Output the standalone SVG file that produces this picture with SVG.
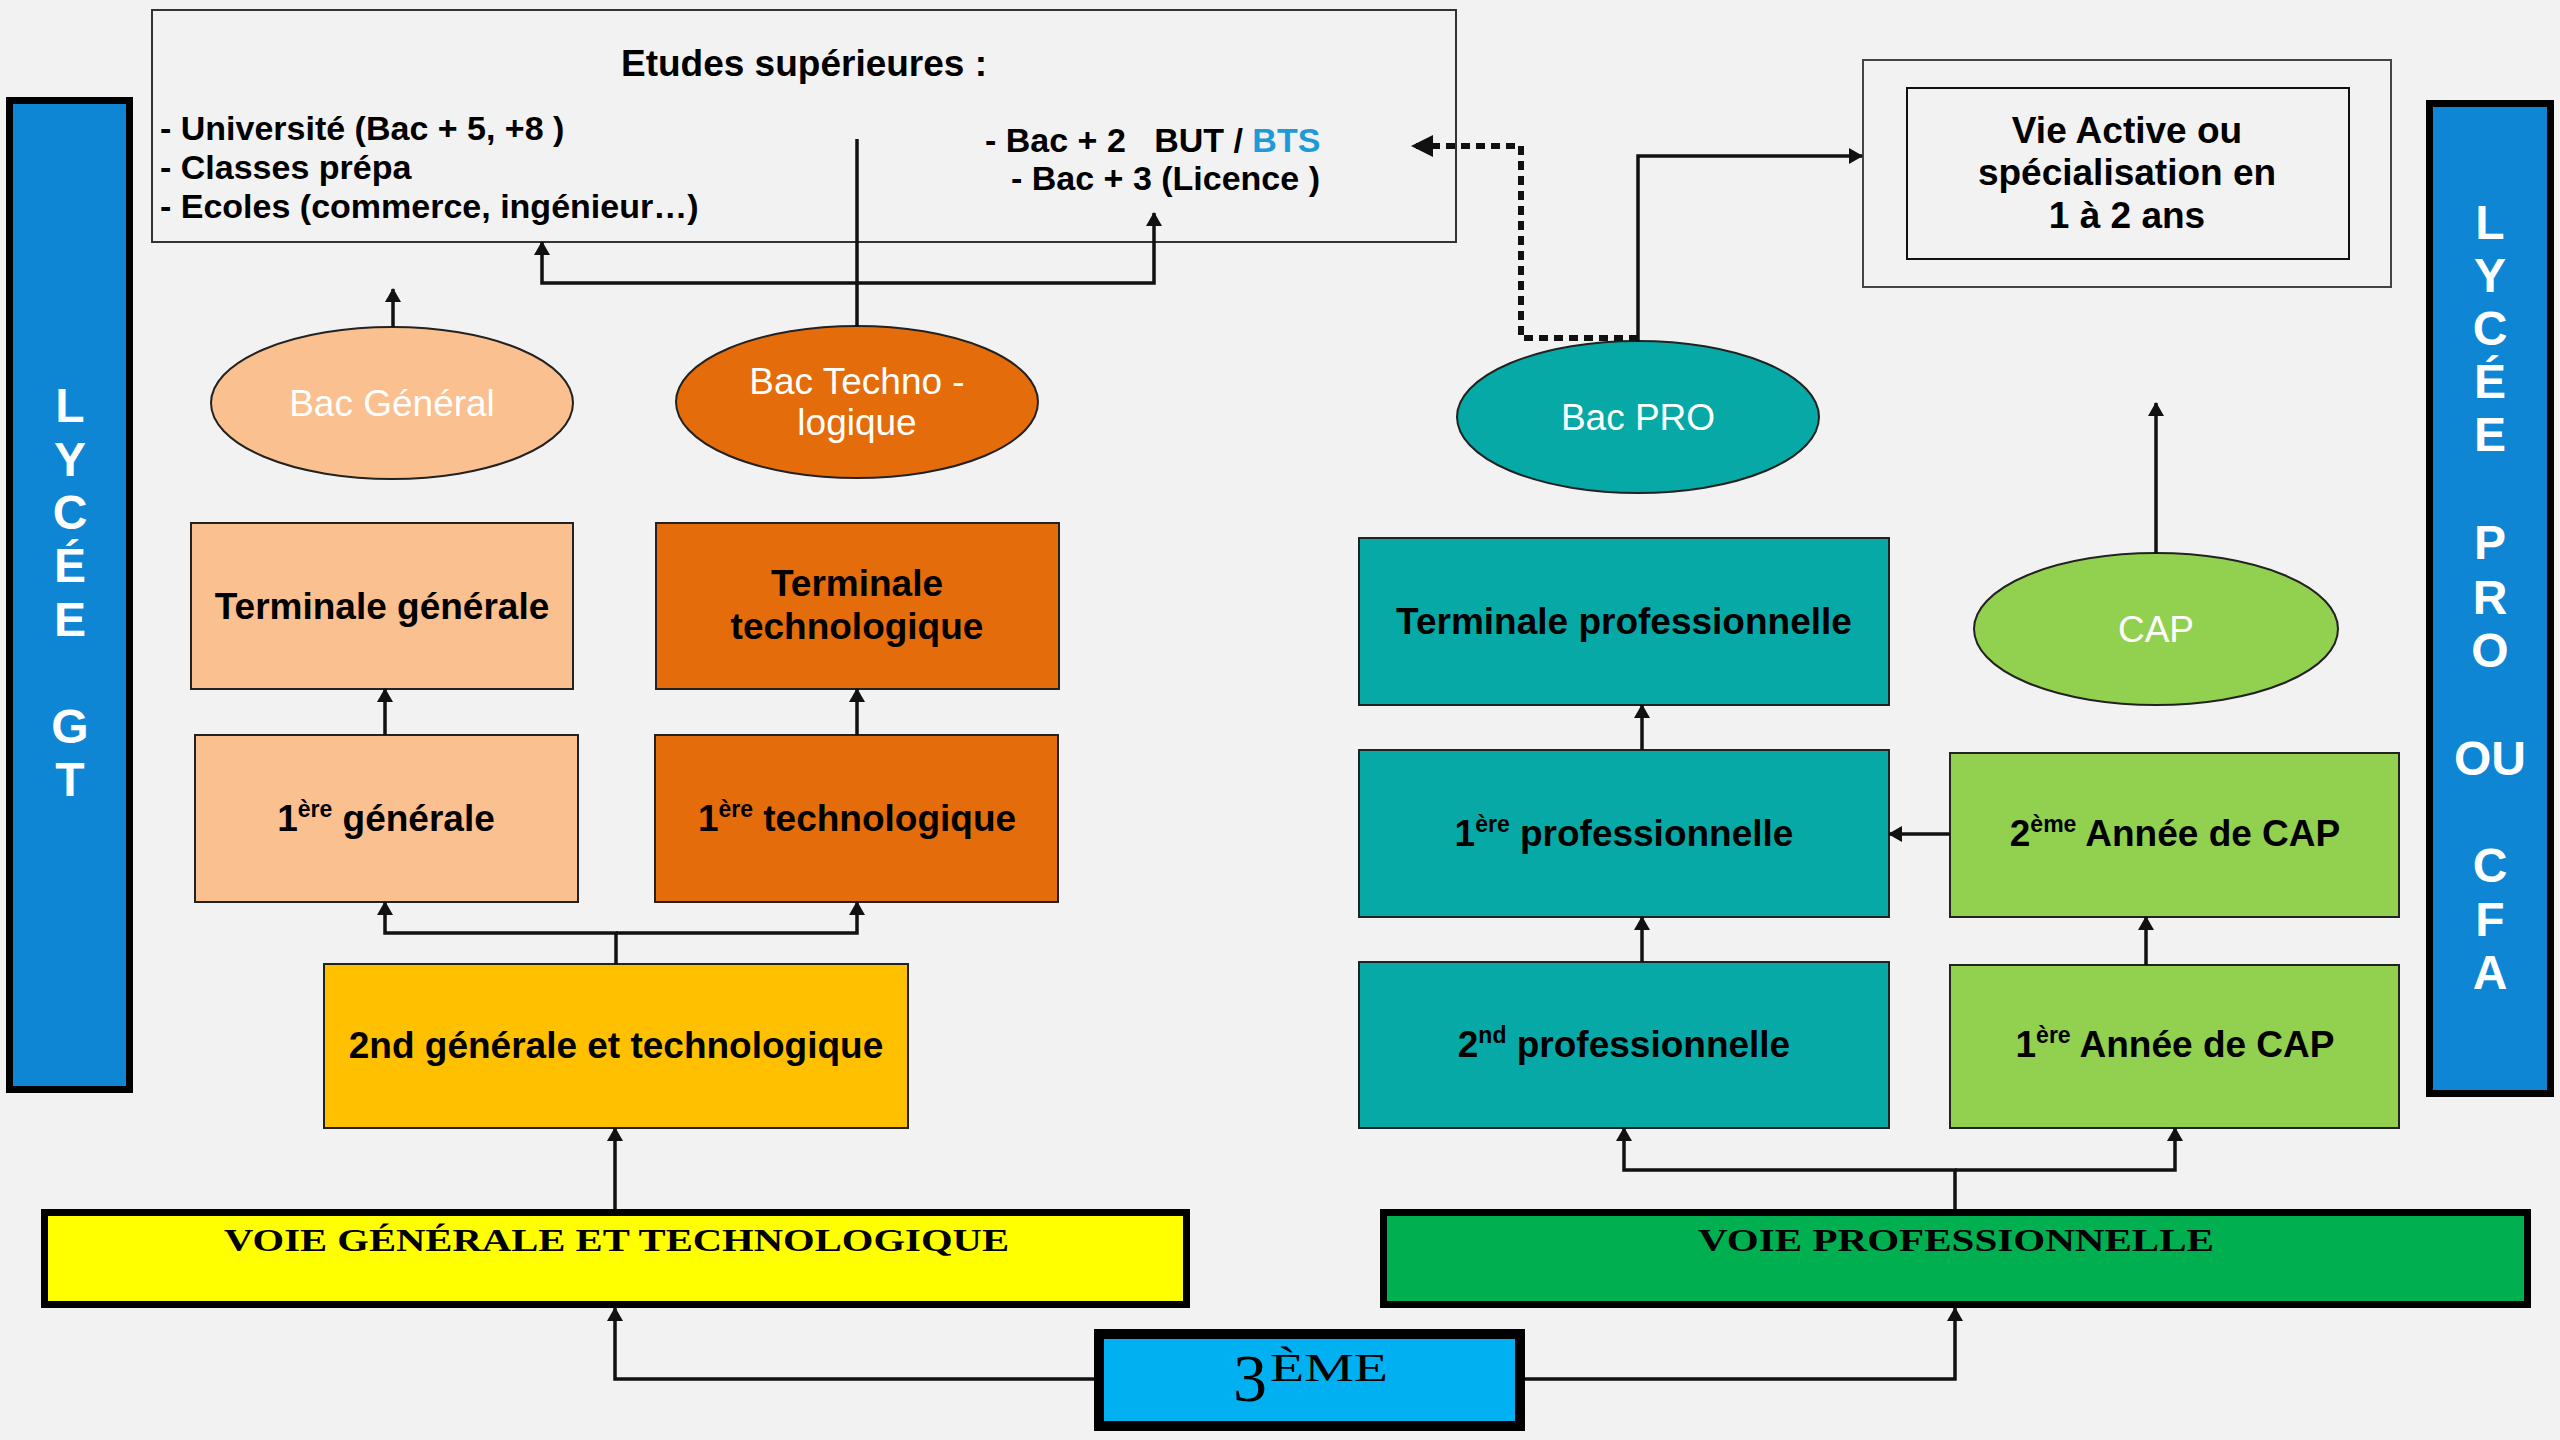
<svg xmlns="http://www.w3.org/2000/svg" width="2560" height="1440" viewBox="0 0 2560 1440">
<defs>
<marker id="arr" markerUnits="userSpaceOnUse" markerWidth="14" markerHeight="18" viewBox="0 0 14 18" refX="13" refY="9" orient="auto">
<path d="M0,1 L14,9 L0,17 Z" fill="#111"/>
</marker>
<marker id="arrBig" markerUnits="userSpaceOnUse" markerWidth="22" markerHeight="24" viewBox="0 0 22 24" refX="21" refY="12" orient="auto">
<path d="M0,1 L22,12 L0,23 Z" fill="#111"/>
</marker>
<style>
.box{stroke:#222;stroke-width:2}
.peach{fill:#fac090}
.orange{fill:#e46c0a}
.gold{fill:#ffc000}
.teal{fill:#06a9a5}
.green{fill:#92d050}
.side{fill:#0e86d4;stroke:#000;stroke-width:7}
.lbl{font-family:"Liberation Sans",Arial,sans-serif;font-weight:bold;font-size:37px;fill:#000;text-anchor:middle}
.ell{font-family:"Liberation Sans",Arial,sans-serif;font-size:37px;fill:#fff;text-anchor:middle}
.sup{font-size:23px}
.list{font-family:"Liberation Sans",Arial,sans-serif;font-weight:bold;font-size:34px;fill:#000}
.vert{font-family:"Liberation Sans",Arial,sans-serif;font-weight:bold;font-size:48px;fill:#fff;text-anchor:middle}
.serif{font-family:"Liberation Serif","Times New Roman",serif;fill:#000}
.con{fill:none;stroke:#111;stroke-width:3.5}
.dot{fill:none;stroke:#111;stroke-width:6;stroke-dasharray:9 6}
</style>
</defs>
<rect x="0" y="0" width="2560" height="1440" fill="#f2f2f2"/>

<g id="etudes">
<rect x="152" y="10" width="1304" height="232" fill="none" stroke="#333" stroke-width="2"/>
<text class="lbl" x="804" y="76">Etudes supérieures :</text>
<text class="list" x="160" y="140">- Université (Bac + 5, +8 )</text>
<text class="list" x="160" y="179">- Classes prépa</text>
<text class="list" x="160" y="218">- Ecoles (commerce, ingénieur…)</text>
<text class="list" x="985" y="152" xml:space="preserve">- Bac + 2   BUT / <tspan fill="#1e9bd7">BTS</tspan></text>
<text class="list" x="1011" y="190">- Bac + 3 (Licence )</text>
</g>

<g id="vie-active">
<rect x="1863" y="60" width="528" height="227" fill="none" stroke="#444" stroke-width="2"/>
<rect x="1907" y="88" width="442" height="171" fill="none" stroke="#111" stroke-width="2"/>
<text class="lbl" x="2127" y="143">Vie Active ou</text>
<text class="lbl" x="2127" y="185">spécialisation en</text>
<text class="lbl" x="2127" y="228">1 à 2 ans</text>
</g>

<g id="lycee-gt">
<rect class="side" x="9.5" y="100.5" width="120" height="989"/>
<text class="vert" x="70" y="422">L</text>
<text class="vert" x="70" y="476">Y</text>
<text class="vert" x="70" y="529">C</text>
<text class="vert" x="70" y="582">É</text>
<text class="vert" x="70" y="636">E</text>
<text class="vert" x="70" y="743">G</text>
<text class="vert" x="70" y="796">T</text>
</g>

<g id="lycee-pro">
<rect class="side" x="2429.5" y="103.5" width="121" height="990"/>
<text class="vert" x="2490" y="239">L</text>
<text class="vert" x="2490" y="292">Y</text>
<text class="vert" x="2490" y="345">C</text>
<text class="vert" x="2490" y="398">É</text>
<text class="vert" x="2490" y="451">E</text>
<text class="vert" x="2490" y="559">P</text>
<text class="vert" x="2490" y="614">R</text>
<text class="vert" x="2490" y="667">O</text>
<text class="vert" x="2490" y="775">OU</text>
<text class="vert" x="2490" y="882">C</text>
<text class="vert" x="2490" y="936">F</text>
<text class="vert" x="2490" y="989">A</text>
</g>

<g id="bac-general">
<ellipse class="box peach" cx="392" cy="403" rx="181" ry="76"/>
<text class="ell" x="392" y="416">Bac Général</text>
</g>
<g id="bac-techno">
<ellipse class="box orange" cx="857" cy="402" rx="181" ry="76"/>
<text class="ell" x="857" y="394">Bac Techno -</text>
<text class="ell" x="857" y="435">logique</text>
</g>
<g id="bac-pro">
<ellipse class="box teal" cx="1638" cy="417" rx="181" ry="76"/>
<text class="ell" x="1638" y="430">Bac PRO</text>
</g>
<g id="cap">
<ellipse class="box green" cx="2156" cy="629" rx="182" ry="76"/>
<text class="ell" x="2156" y="642">CAP</text>
</g>

<g id="terminale-generale">
<rect class="box peach" x="191" y="523" width="382" height="166"/>
<text class="lbl" x="382" y="619">Terminale générale</text>
</g>
<g id="terminale-techno">
<rect class="box orange" x="656" y="523" width="403" height="166"/>
<text class="lbl" x="857" y="596">Terminale</text>
<text class="lbl" x="857" y="639">technologique</text>
</g>
<g id="premiere-generale">
<rect class="box peach" x="195" y="735" width="383" height="167"/>
<text class="lbl" x="386" y="831">1<tspan class="sup" dy="-14">ère</tspan><tspan dy="14"> générale</tspan></text>
</g>
<g id="premiere-techno">
<rect class="box orange" x="655" y="735" width="403" height="167"/>
<text class="lbl" x="857" y="831">1<tspan class="sup" dy="-14">ère</tspan><tspan dy="14"> technologique</tspan></text>
</g>
<g id="seconde-gt">
<rect class="box gold" x="324" y="964" width="584" height="164"/>
<text class="lbl" x="616" y="1058">2nd générale et technologique</text>
</g>

<g id="terminale-pro">
<rect class="box teal" x="1359" y="538" width="530" height="167"/>
<text class="lbl" x="1624" y="634">Terminale professionnelle</text>
</g>
<g id="premiere-pro">
<rect class="box teal" x="1359" y="750" width="530" height="167"/>
<text class="lbl" x="1624" y="846">1<tspan class="sup" dy="-14">ère</tspan><tspan dy="14"> professionnelle</tspan></text>
</g>
<g id="seconde-pro">
<rect class="box teal" x="1359" y="962" width="530" height="166"/>
<text class="lbl" x="1624" y="1057">2<tspan class="sup" dy="-14">nd</tspan><tspan dy="14"> professionnelle</tspan></text>
</g>
<g id="cap2">
<rect class="box green" x="1950" y="753" width="449" height="164"/>
<text class="lbl" x="2175" y="846">2<tspan class="sup" dy="-14">ème</tspan><tspan dy="14"> Année de CAP</tspan></text>
</g>
<g id="cap1">
<rect class="box green" x="1950" y="965" width="449" height="163"/>
<text class="lbl" x="2175" y="1057">1<tspan class="sup" dy="-14">ère</tspan><tspan dy="14"> Année de CAP</tspan></text>
</g>

<g id="voie-gt">
<rect x="44.5" y="1212.5" width="1142" height="92" fill="#ffff00" stroke="#000" stroke-width="7"/>
<text class="serif" x="224" y="1251" font-size="32" font-weight="bold" textLength="785" lengthAdjust="spacingAndGlyphs">VOIE GÉNÉRALE ET TECHNOLOGIQUE</text>
</g>
<g id="voie-pro">
<rect x="1383.5" y="1212.5" width="1144" height="92" fill="#00b050" stroke="#000" stroke-width="7"/>
<text class="serif" x="1698" y="1251" font-size="32" font-weight="bold" textLength="516" lengthAdjust="spacingAndGlyphs">VOIE PROFESSIONNELLE</text>
</g>
<g id="troisieme">
<rect x="1099" y="1334" width="421" height="92" fill="#00b0f0" stroke="#000" stroke-width="10"/>
<text class="serif" x="1233" y="1401" font-size="68">3</text>
<text class="serif" x="1270" y="1381" font-size="40" textLength="118" lengthAdjust="spacingAndGlyphs">ÈME</text>
</g>

<g id="connectors">
<path class="con" d="M393,327 V289" marker-end="url(#arr)"/>
<path class="con" d="M857,327 V139"/>
<path class="con" d="M857,283 H542 V242" marker-end="url(#arr)"/>
<path class="con" d="M857,283 H1154 V213" marker-end="url(#arr)"/>
<path class="con" d="M385,735 V689" marker-end="url(#arr)"/>
<path class="con" d="M857,735 V689" marker-end="url(#arr)"/>
<path class="con" d="M616,964 V933 H385 V902" marker-end="url(#arr)"/>
<path class="con" d="M616,933 H857 V902" marker-end="url(#arr)"/>
<path class="con" d="M615,1209 V1128" marker-end="url(#arr)"/>
<path class="con" d="M1094,1379 H615 V1308" marker-end="url(#arr)"/>
<path class="con" d="M1525,1379 H1955 V1308" marker-end="url(#arr)"/>
<path class="con" d="M1955,1209 V1170 H1624 V1128" marker-end="url(#arr)"/>
<path class="con" d="M1955,1170 H2175 V1128" marker-end="url(#arr)"/>
<path class="con" d="M1642,962 V917" marker-end="url(#arr)"/>
<path class="con" d="M1642,750 V705" marker-end="url(#arr)"/>
<path class="con" d="M2146,965 V917" marker-end="url(#arr)"/>
<path class="con" d="M1950,834 H1889" marker-end="url(#arr)"/>
<path class="con" d="M2156,554 V403" marker-end="url(#arr)"/>
<path class="con" d="M1638,342 V156 H1862" marker-end="url(#arr)"/>
<path class="dot" d="M1638,338 H1521 V146 H1412" marker-end="url(#arrBig)"/>
</g>
</svg>
